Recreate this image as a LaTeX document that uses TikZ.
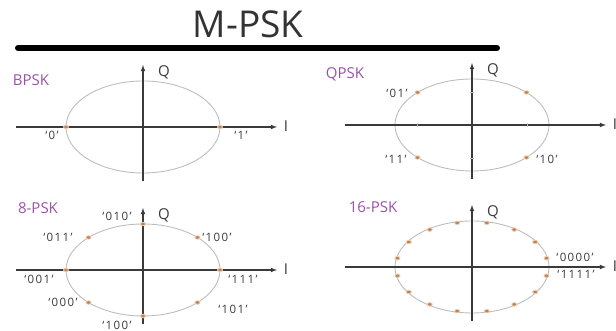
\documentclass[tikz,border=0pt]{standalone}
\usepackage{fontspec}
\setmainfont{Open Sans}
\definecolor{violetpsk}{HTML}{9B51A8}
\definecolor{pointpsk}{HTML}{B5835E}
\definecolor{halopsk}{HTML}{F5C9A6}
\definecolor{cerclepsk}{HTML}{BDBDBD}
\definecolor{axepsk}{HTML}{3A3A3A}
\tikzset{
  axe/.style={axepsk, line width=1.1pt, -latex},
  cercle/.style={cerclepsk, line width=0.9pt},
  symbole/.style={ellipse, fill=pointpsk, draw=halopsk, line width=0.8pt,
    inner sep=0pt, minimum width=5pt, minimum height=3.5pt},
  nompsk/.style={text=violetpsk, font=\fontsize{15}{15}\selectfont},
  bits/.style={text=axepsk, font=\fontsize{11.5}{12}\selectfont\addfontfeature{LetterSpace=12}, inner sep=0pt},
  nomaxe/.style={text=axepsk, font=\fontsize{15}{15}\selectfont, inner sep=0pt},
}
\usetikzlibrary{shapes.geometric}
\begin{document}
\begin{tikzpicture}[x=1pt, y=1pt]
\useasboundingbox (0,0) rectangle (616,331);

% Titre
\node[font=\fontsize{37}{37}\selectfont, text=black!80] (titre) at (248,307) {M-PSK};
\draw[line width=6pt, line cap=round] (18,283) -- (497,283);

% Axes et cercles
\foreach \nom/\cx/\cy in {bpsk/143/204, qpsk/472/206, huit/143/61, seize/472/64}
{
    \begin{scope}[shift={(\cx,\cy)}]
    \draw[cercle] (0,0) ellipse [x radius=77, y radius=46];
    \draw[axe] (-127,0) -- (134,0);
    \draw[axe] (0,-54) -- (0,62);
    \node[nomaxe] (Q\nom) at (21,55) {Q};
    \node[nomaxe] (I\nom) at (143,1) {I};
    \end{scope}
}

% BPSK
\node[nompsk] (tbpsk) at (31,251) {BPSK};
\begin{scope}[shift={(143,204)}]
\foreach \a in {0,180}
{
    \node[symbole] (b\a) at (\a:77 and 46) {};
}
\node[bits] at (-91,-8) {`0'};
\node[bits] at (98,-8) {`1'};
\end{scope}

% QPSK
\node[nompsk] (tqpsk) at (345,257) {QPSK};
\begin{scope}[shift={(472,206)}]
\foreach \t in {-55,55}
{
    \draw[cerclepsk, line width=0.5pt] (\t,-2) -- (\t,2);
    \draw[cerclepsk, line width=0.5pt] (-2,0.6*\t) -- (2,0.6*\t);
}
\foreach \a in {45,135,225,315}
{
    \node[symbole] (q\a) at (\a:77 and 46) {};
}
\node[bits] at (-75,32) {`01'};
\node[bits] at (-76,-34) {`11'};
\node[bits] at (75,-34) {`10'};
\end{scope}

% 8-PSK
\node[nompsk] (thuit) at (38,123) {8-PSK};
\begin{scope}[shift={(143,61)}]
\foreach \a in {0,45,...,315}
{
    \node[symbole] (h\a) at (\a:77 and 46) {};
}
\node[bits] at (-26,54) {`010'};
\node[bits] at (74,33) {`100'};
\node[bits] at (-85,33) {`011'};
\node[bits] at (-104,-9) {`001'};
\node[bits] at (100,-9) {`111'};
\node[bits] at (-80,-32) {`000'};
\node[bits] at (90,-39) {`101'};
\node[bits] at (-26,-55) {`100'};
\end{scope}

% 16-PSK
\node[nompsk] (tseize) at (373,124) {16-PSK};
\begin{scope}[shift={(472,64)}]
\foreach \k in {0,...,15}
{
    \node[symbole] (s\k) at (11.25+22.5*\k:76 and 45) {};
}
\node[bits] at (103,10) {`0000'};
\node[bits] at (104,-7) {`1111'};
\end{scope}

\end{tikzpicture}
\end{document}
